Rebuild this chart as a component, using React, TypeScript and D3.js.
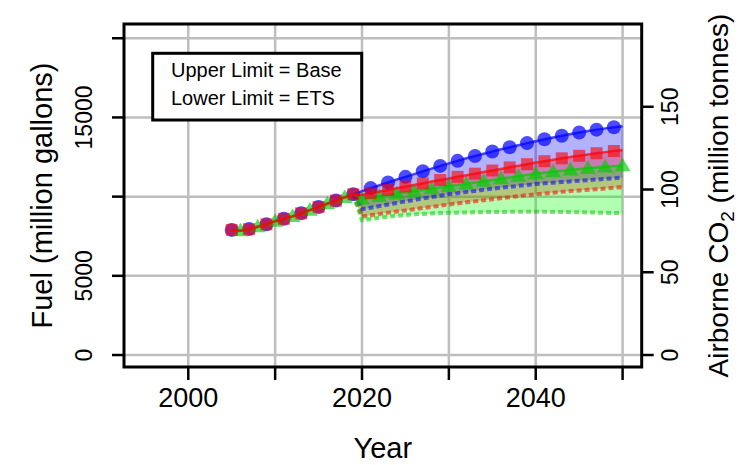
import React from "react";
import * as d3 from "d3";

const histYears = d3.range(2005, 2020);
const histFuel = [7900, 7850, 7950, 8100, 8250, 8450, 8600, 8750, 8950, 9150, 9350, 9550, 9750, 9950, 10150];

const projYears = d3.range(2020, 2051);
const baseUpper = [10350, 10540, 10720, 10900, 11080, 11250, 11420, 11600, 11770, 11940, 12100, 12260, 12420, 12570, 12710, 12850, 12990, 13120, 13250, 13380, 13500, 13620, 13730, 13840, 13950, 14050, 14140, 14230, 14310, 14380, 14450];
const baseLower = [9200, 9300, 9400, 9500, 9600, 9700, 9790, 9880, 9970, 10060, 10150, 10220, 10290, 10360, 10430, 10500, 10560, 10620, 10680, 10740, 10800, 10840, 10880, 10920, 10960, 11000, 11040, 11080, 11120, 11160, 11200];
const redUpper = [10100, 10210, 10320, 10420, 10530, 10640, 10740, 10840, 10950, 11050, 11150, 11250, 11350, 11450, 11550, 11650, 11750, 11850, 11950, 12050, 12150, 12240, 12330, 12420, 12500, 12580, 12660, 12740, 12810, 12880, 12950];
const redLower = [8750, 8830, 8910, 8990, 9060, 9130, 9200, 9280, 9350, 9430, 9500, 9570, 9640, 9700, 9770, 9830, 9900, 9960, 10030, 10090, 10150, 10200, 10250, 10300, 10350, 10390, 10430, 10470, 10510, 10560, 10600];
const greenUpper = [9850, 9940, 10020, 10100, 10180, 10260, 10340, 10420, 10500, 10580, 10650, 10730, 10810, 10890, 10970, 11050, 11130, 11210, 11290, 11370, 11450, 11510, 11570, 11630, 11690, 11740, 11790, 11840, 11880, 11920, 11950];
const greenLower = [8500, 8580, 8660, 8730, 8790, 8840, 8880, 8910, 8940, 8960, 8980, 8990, 9000, 9010, 9020, 9030, 9030, 9040, 9040, 9040, 9040, 9040, 9030, 9030, 9020, 9010, 9000, 8990, 8980, 8970, 8960];

const xGridYears = [2000, 2010, 2020, 2030, 2040, 2050];
const xLabelYears = [2000, 2020, 2040];
const fuelTicks = [0, 5000, 10000, 15000, 20000];
const fuelLabels = [0, 5000, 15000];
const co2Ticks = [0, 50, 100, 150];
const co2PerFuel = 0.00957;

const legendLines = ["Upper Limit = Base", "Lower Limit = ETS"];

type Pt = { year: number; v: number };

function series(proj: number[]): Pt[] {
  return [
    ...histYears.map((y, i) => ({ year: y, v: histFuel[i] })),
    ...projYears.map((y, i) => ({ year: y, v: proj[i] })),
  ];
}

const FONT = "'Liberation Sans', Arial, Helvetica, sans-serif";

export default function App() {
  const left = 124, right = 641.7, top = 24, bottom = 367;
  const x = d3.scaleLinear().domain([1992.6, 2052.2]).range([left, right]);
  const y = d3.scaleLinear().domain([-757, 20900]).range([bottom, top]);
  const y2 = d3.scaleLinear().domain([-757 * co2PerFuel, 20900 * co2PerFuel]).range([bottom, top]);

  const line = d3.line<Pt>().x((d) => x(d.year)).y((d) => y(d.v));

  const bands = [
    { up: series(baseUpper), lo: series(baseLower), color: "#0000ff", fill: "rgba(0,0,255,0.3)", shape: "circle", offset: 0 },
    { up: series(redUpper), lo: series(redLower), color: "#ff0000", fill: "rgba(255,0,0,0.3)", shape: "square", offset: 0 },
    { up: series(greenUpper), lo: series(greenLower), color: "#00cc00", fill: "rgba(0,255,0,0.3)", shape: "triangle", offset: 1 },
  ];

  const area = (up: Pt[], lo: Pt[]) =>
    d3
      .area<number>()
      .x((i) => x(up[i].year))
      .y0((i) => y(lo[i].v))
      .y1((i) => y(up[i].v))(d3.range(up.length)) || "";

  const marker = (shape: string, cx: number, cy: number, color: string, key: string) => {
    if (shape === "circle") return <circle key={key} cx={cx} cy={cy} r={7} fill={color} fillOpacity={0.7} />;
    if (shape === "square") return <rect key={key} x={cx - 6} y={cy - 6} width={12} height={12} fill={color} fillOpacity={0.6} />;
    const s = 8;
    return (
      <path key={key} d={`M${cx},${cy - s}L${cx + s},${cy + s * 0.7}L${cx - s},${cy + s * 0.7}Z`} fill={color} fillOpacity={0.65} />
    );
  };

  const drawOrder = [0, 2, 1];

  return (
    <svg width={740} height={465} style={{ position: "absolute", left: 0, top: 0, background: "#fff" }}>
      <rect x={0} y={0} width={740} height={465} fill="#fff" />
      {xGridYears.map((yr) => (
        <line key={"gx" + yr} x1={x(yr)} x2={x(yr)} y1={top} y2={bottom} stroke="#bebebe" strokeWidth={2.5} />
      ))}
      {fuelTicks.map((v) => (
        <line key={"gy" + v} x1={left} x2={right} y1={y(v)} y2={y(v)} stroke="#bebebe" strokeWidth={2.5} />
      ))}
      {bands.map((b, i) => (
        <path key={"a" + i} d={area(b.up, b.lo)} fill={b.fill} stroke="none" />
      ))}
      {bands.map((b, i) => (
        <path key={"l" + i} d={line(b.lo.filter((d) => d.year >= 2019)) || ""} fill="none" stroke={b.color} strokeOpacity={0.55} strokeWidth={4} strokeDasharray="5,3" />
      ))}
      {drawOrder.map((i) => {
        const b = bands[i];
        return (
          <g key={"u" + i}>
            <path d={line(b.up) || ""} fill="none" stroke={b.color} strokeOpacity={0.7} strokeWidth={2.5} />
            {b.up
              .filter((d) => (d.year - 2005 - b.offset) % 2 === 0)
              .map((d) => marker(b.shape, x(d.year), y(d.v), b.color, "m" + i + d.year))}
          </g>
        );
      })}
      <rect x={left} y={top} width={right - left} height={bottom - top} fill="none" stroke="#000" strokeWidth={3} />
      {xGridYears.map((yr) => (
        <line key={"tx" + yr} x1={x(yr)} x2={x(yr)} y1={bottom} y2={bottom + 13} stroke="#000" strokeWidth={2.5} />
      ))}
      {xLabelYears.map((yr) => (
        <text key={"lx" + yr} x={x(yr)} y={407} textAnchor="middle" fontFamily={FONT} fontSize={27}>
          {yr}
        </text>
      ))}
      <text x={(left + right) / 2} y={458} textAnchor="middle" fontFamily={FONT} fontSize={29}>
        Year
      </text>
      {fuelTicks.map((v) => (
        <line key={"ty" + v} x1={left - 12} x2={left} y1={y(v)} y2={y(v)} stroke="#000" strokeWidth={2.5} />
      ))}
      {fuelLabels.map((v) => (
        <text key={"ly" + v} transform={`translate(92,${y(v)}) rotate(-90)`} textAnchor="middle" fontFamily={FONT} fontSize={23}>
          {v}
        </text>
      ))}
      <text transform={`translate(52,${(top + bottom) / 2}) rotate(-90)`} textAnchor="middle" fontFamily={FONT} fontSize={29}>
        Fuel (million gallons)
      </text>
      {co2Ticks.map((v) => (
        <line key={"t2" + v} x1={right} x2={right + 12} y1={y2(v)} y2={y2(v)} stroke="#000" strokeWidth={2.5} />
      ))}
      {co2Ticks.map((v) => (
        <text key={"l2" + v} transform={`translate(678,${y2(v)}) rotate(-90)`} textAnchor="middle" fontFamily={FONT} fontSize={23}>
          {v}
        </text>
      ))}
      <text transform={`translate(728,${(top + bottom) / 2}) rotate(-90)`} textAnchor="middle" fontFamily={FONT} fontSize={28}>
        Airborne CO
        <tspan fontSize={19} dy={6}>2</tspan>
        <tspan dy={-6}> (million tonnes)</tspan>
      </text>
      <rect x={152.7} y={53.3} width={209} height={66.7} fill="#fff" stroke="#000" strokeWidth={3} />
      {legendLines.map((t, i) => (
        <text key={"lg" + i} x={171} y={77 + i * 28} fontFamily={FONT} fontSize={20}>
          {t}
        </text>
      ))}
    </svg>
  );
}
